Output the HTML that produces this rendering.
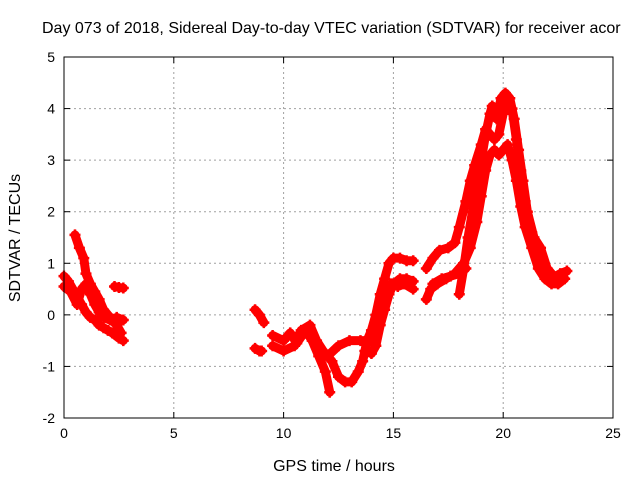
<!DOCTYPE html>
<html><head><meta charset="utf-8"><style>
body{margin:0;background:#fff}
svg{display:block;font-family:"Liberation Sans",sans-serif}
</style></head><body>
<svg id="c" width="640" height="480">
<text x="42" y="33" font-size="16">Day 073 of 2018, Sidereal Day-to-day VTEC variation (SDTVAR) for receiver acor</text>
<text x="334" y="471" font-size="16" text-anchor="middle">GPS time / hours</text>
<text transform="translate(20,238) rotate(-90)" font-size="16" text-anchor="middle">SDTVAR / TECUs</text>
<g id="grid"></g><g id="marks"></g><g id="axes"></g>
</svg>
<script>
const xTicks=[0,5,10,15,20,25];
const yTicks=[-2,-1,0,1,2,3,4,5];
const trackA=[[0.5,1.55],[0.7,1.3],[0.9,1.1],[1.0,0.8],[1.2,0.6],[1.4,0.45],[1.6,0.3],[1.8,0.1],[2.0,0],[2.2,-0.1],[2.4,-0.2],[2.6,-0.35]];
const trackB=[[0,0.75],[0.2,0.65],[0.4,0.5],[0.6,0.35],[0.8,0.2],[1.0,0.05],[1.2,-0.05],[1.4,-0.1],[1.6,-0.2],[1.8,-0.25],[2.0,-0.3],[2.2,-0.35],[2.5,-0.45],[2.7,-0.5]];
const trackC=[[0,0.55],[0.3,0.45],[0.6,0.2],[0.8,0.5],[1.0,0.6],[1.2,0.4],[1.4,0.2],[1.6,0.05],[1.8,-0.05],[2.1,-0.1],[2.4,-0.05],[2.7,-0.1]];
const trackD=[[2.3,0.55],[2.5,0.53],[2.7,0.52]];
const trackE=[[8.7,0.1],[8.9,0.0],[9.1,-0.15]];
const trackF=[[8.7,-0.65],[8.9,-0.7],[9.0,-0.7]];
const trackK=[[9.5,-0.4],[10,-0.5],[10.3,-0.35],[10.6,-0.55],[11,-0.3],[11.3,-0.5],[11.6,-0.8],[11.9,-1.1],[12.1,-1.5]];
const trackL=[[9.5,-0.6],[10,-0.7],[10.5,-0.6],[10.8,-0.3],[11.2,-0.2],[11.5,-0.5],[11.8,-0.7],[12.2,-0.9],[12.5,-1.2],[12.8,-1.3],[13.1,-1.3],[13.4,-1.1],[13.6,-0.9],[13.8,-0.5],[14.0,-0.3],[14.2,0.0],[14.4,0.4],[14.6,0.7],[14.8,1.0],[15.0,1.1],[15.3,1.1],[15.6,1.05],[15.9,1.05]];
const trackM=[[12.0,-0.8],[12.5,-0.6],[13,-0.5],[13.5,-0.5],[14,-0.5],[14.3,-0.2],[14.5,0.2],[14.7,0.5],[14.9,0.6],[15.2,0.55],[15.5,0.6],[15.9,0.5]];
const trackN=[[13.7,-0.7],[14.0,-0.75],[14.2,-0.6],[14.4,-0.2],[14.6,0.1],[14.8,0.4],[15.0,0.6],[15.3,0.7],[15.6,0.7],[15.9,0.65]];
const trackG=[[16.5,0.3],[16.7,0.5],[17,0.6],[17.4,0.7],[17.8,0.8],[18.2,1.0],[18.5,1.3],[18.8,1.8],[19.0,2.3],[19.2,2.8],[19.4,3.1],[19.6,3.2],[19.8,3.1],[20.0,3.2],[20.2,3.3],[20.4,3.0],[20.6,2.6],[20.8,2.1],[21.0,1.7],[21.3,1.3],[21.6,0.9],[21.9,0.7],[22.2,0.6],[22.5,0.6],[22.8,0.7]];
const trackH=[[16.5,0.9],[16.8,1.1],[17.1,1.25],[17.5,1.3],[17.8,1.4],[18.0,1.7],[18.3,2.2],[18.5,2.6],[18.7,2.9],[19.0,3.3],[19.2,3.6],[19.4,3.5],[19.6,3.4],[19.8,3.5],[20.0,3.9],[20.2,4.2],[20.4,4.0],[20.6,3.4],[20.8,2.8],[21.0,2.2],[21.3,1.6],[21.6,1.1],[21.9,0.8],[22.2,0.7],[22.6,0.8],[22.9,0.85]];
const trackI=[[18.0,0.4],[18.2,0.9],[18.4,1.5],[18.6,2.0],[18.8,2.5],[19.0,3.0],[19.2,3.5],[19.4,3.9],[19.5,4.05],[19.7,3.8],[19.9,4.2],[20.1,4.3],[20.3,4.2],[20.5,3.8],[20.7,3.2],[20.9,2.6],[21.1,2.0],[21.4,1.5],[21.7,1.3],[22.0,0.9],[22.3,0.75],[22.7,0.7]];
const trackJ=[[16.8,0.6],[17.2,0.7],[17.6,0.75],[18.0,0.8],[18.3,0.9]];
const tracks=[trackA,trackB,trackC,trackD,trackE,trackF,trackK,trackL,trackM,trackN,trackG,trackH,trackI,trackJ];

const L=64,R=613,T=57,B=418;
const X=v=>L+(v-0)/25*(R-L);
const Y=v=>B-(v+2)/7*(B-T);
const NS="http://www.w3.org/2000/svg";
function mk(tag,parent,attrs){const e=document.createElementNS(NS,tag);for(const k in attrs)e.setAttribute(k,attrs[k]);parent.appendChild(e);return e;}
const grid=document.getElementById('grid'),axes=document.getElementById('axes'),marks=document.getElementById('marks');
xTicks.forEach(t=>{
  const x=X(t);
  if(t>0&&t<25){const g=mk('line',grid,{x1:x,x2:x,y1:T,y2:B,stroke:'#a0a0a0','stroke-dasharray':'2,3'});
  
  }
  mk('line',axes,{x1:x,x2:x,y1:B,y2:B-6,stroke:'#000'});
  mk('line',axes,{x1:x,x2:x,y1:T,y2:T+6,stroke:'#000'});
  const tx=mk('text',axes,{x:x,y:B+20,'font-size':14,'text-anchor':'middle'});tx.textContent=t;
  
  
});
yTicks.forEach(t=>{
  const y=Y(t);
  if(t>-2&&t<5){const g=mk('line',grid,{x1:L,x2:R,y1:y,y2:y,stroke:'#a0a0a0','stroke-dasharray':'2,3'});
  
  }
  mk('line',axes,{x1:L,x2:L+6,y1:y,y2:y,stroke:'#000'});
  mk('line',axes,{x1:R,x2:R-6,y1:y,y2:y,stroke:'#000'});
  const tx=mk('text',axes,{x:L-9,y:y+5,'font-size':14,'text-anchor':'end'});tx.textContent=t;
  
  
});
const fr=mk('rect',axes,{x:L,y:T,width:R-L,height:B-T,fill:'none',stroke:'#000'});


tracks.forEach(tr=>{
  const pl=mk('polyline',marks,{points:tr.map(p=>X(p[0])+','+Y(p[1])).join(' '),fill:'none',stroke:'#ff0000','stroke-width':9,'stroke-linejoin':'round','stroke-linecap':'round'});
  
  
  tr.forEach(p=>{
    const x=X(p[0]),y=Y(p[1]);
    const m=mk('path',marks,{d:`M${x-5.5},${y}H${x+5.5}M${x},${y-5.5}V${y+5.5}`,stroke:'#ff0000','stroke-width':2.5});
    
    
  });
});
</script>
</body></html>
